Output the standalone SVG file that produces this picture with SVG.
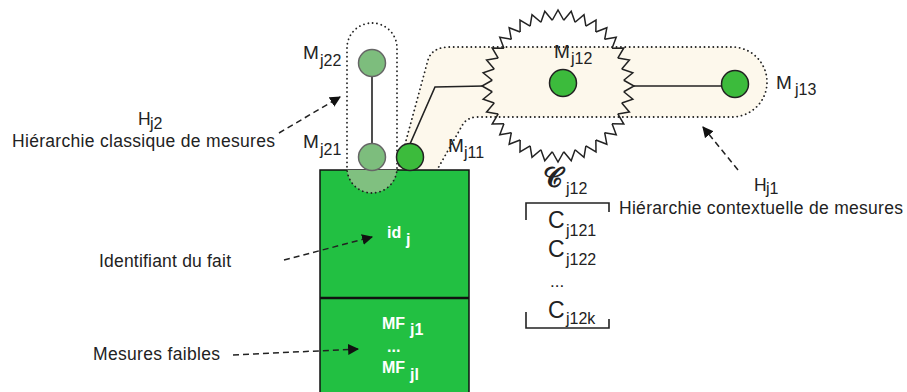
<svg xmlns="http://www.w3.org/2000/svg" xmlns:xlink="http://www.w3.org/1999/xlink" width="907" height="392" viewBox="0 0 907 392">
<style>
text{font-family:"Liberation Sans",Arial,sans-serif;fill:#222;}
.lbl{font-size:17.5px;}
.m{font-size:19px;}
.sub{font-size:16px;}
.w{fill:#fff;font-weight:bold;font-size:16px;}
.ws{fill:#fff;font-weight:bold;font-size:16px;}
.big{font-size:23px;}
.dot{fill:none;stroke:#222;stroke-width:1.8;stroke-dasharray:0.1 4.3;stroke-linecap:round;}
.arr{fill:none;stroke:#222;stroke-width:1.5;stroke-dasharray:6 4;}
.edge{fill:none;stroke:#222;stroke-width:1.6;}
.node{fill:#3cbb3c;stroke:#222;stroke-width:1.5;}
.fade{fill:#7dbd7d;stroke:#666;stroke-width:1.5;}
.tooth{fill:none;stroke:#222;stroke-width:1.5;stroke-linejoin:miter;}
</style>
<defs>
<marker id="ah" viewBox="0 0 10 10" refX="9" refY="5" markerWidth="11" markerHeight="11" markerUnits="userSpaceOnUse" orient="auto">
<path d="M0,0 L10,5 L0,10 Z" fill="#111"/>
</marker>
<path id="t" d="M65.75,-5.75 L76,0 L65.75,5.75"/>
</defs>

<g id="hierarchy-h1-band">
<path d="M398,170 L428,60 Q432,47 450,47 L732,47 A35,35 0 0 1 732,117 L478,117 Q468,117 463,124 L437,170 Z" fill="#fdf8ec"/>
<path class="dot" d="M398,170 L428,60 Q432,47 450,47 L732,47 A35,35 0 0 1 732,117 L478,117 Q468,117 463,124 L437,170"/>
</g>

<g id="fact-box">
<rect x="320" y="170" width="149" height="230" fill="#22c042" stroke="#111" stroke-width="1.5"/>
<line x1="320" y1="298" x2="469" y2="298" stroke="#111" stroke-width="2.5"/>
<path d="M347,170 L397,170 L397,168 A25,25 0 0 1 347,168 Z" fill="#80c080"/>
<text class="w" x="387" y="238">id</text><text class="ws" x="406" y="245">j</text>
<text class="w" x="382" y="329">MF</text><text class="ws" x="410" y="335">j1</text>
<text class="w" x="387" y="352">...</text>
<text class="w" x="382" y="373">MF</text><text class="ws" x="410" y="380">jl</text>
</g>

<g id="hierarchy-h2">
<path class="dot" d="M347,48 A25,25 0 0 1 397,48 L397,168 A25,25 0 0 1 347,168 Z"/>
</g>

<g id="connectors">
<line class="edge" x1="372" y1="77" x2="372" y2="143"/>
<polyline class="edge" points="410,144 435,87 484,86"/>
<line class="edge" x1="634" y1="86" x2="722" y2="86"/>
<line class="arr" x1="279" y1="133" x2="340" y2="97" marker-end="url(#ah)"/>
<line class="arr" x1="284" y1="260" x2="372" y2="237" marker-end="url(#ah)"/>
<line class="arr" x1="233" y1="355" x2="358" y2="349" marker-end="url(#ah)"/>
<line class="arr" x1="738" y1="170" x2="703" y2="127" marker-end="url(#ah)"/>
</g>

<g id="context-c-j12" class="tooth" transform="translate(558,86)">
<use xlink:href="#t" transform="rotate(0)"/><use xlink:href="#t" transform="rotate(10)"/><use xlink:href="#t" transform="rotate(20)"/><use xlink:href="#t" transform="rotate(30)"/><use xlink:href="#t" transform="rotate(40)"/><use xlink:href="#t" transform="rotate(50)"/><use xlink:href="#t" transform="rotate(60)"/><use xlink:href="#t" transform="rotate(70)"/><use xlink:href="#t" transform="rotate(80)"/>
<use xlink:href="#t" transform="rotate(90)"/><use xlink:href="#t" transform="rotate(100)"/><use xlink:href="#t" transform="rotate(110)"/><use xlink:href="#t" transform="rotate(120)"/><use xlink:href="#t" transform="rotate(130)"/><use xlink:href="#t" transform="rotate(140)"/><use xlink:href="#t" transform="rotate(150)"/><use xlink:href="#t" transform="rotate(160)"/><use xlink:href="#t" transform="rotate(170)"/>
<use xlink:href="#t" transform="rotate(180)"/><use xlink:href="#t" transform="rotate(190)"/><use xlink:href="#t" transform="rotate(200)"/><use xlink:href="#t" transform="rotate(210)"/><use xlink:href="#t" transform="rotate(220)"/><use xlink:href="#t" transform="rotate(230)"/><use xlink:href="#t" transform="rotate(240)"/><use xlink:href="#t" transform="rotate(250)"/><use xlink:href="#t" transform="rotate(260)"/>
<use xlink:href="#t" transform="rotate(270)"/><use xlink:href="#t" transform="rotate(280)"/><use xlink:href="#t" transform="rotate(290)"/><use xlink:href="#t" transform="rotate(300)"/><use xlink:href="#t" transform="rotate(310)"/><use xlink:href="#t" transform="rotate(320)"/><use xlink:href="#t" transform="rotate(330)"/><use xlink:href="#t" transform="rotate(340)"/><use xlink:href="#t" transform="rotate(350)"/>
</g>

<g id="node-mj22"><circle class="fade" cx="372" cy="63" r="13.5"/><text class="m" x="303" y="59">M</text><text class="sub" x="320" y="66">j22</text></g>
<g id="node-mj21"><circle class="fade" cx="372" cy="157" r="13.5"/><text class="m" x="303" y="148">M</text><text class="sub" x="320" y="155">j21</text></g>
<g id="node-mj11"><circle class="node" cx="410" cy="157" r="13.5"/><text class="m" x="448" y="152">M</text><text class="sub" x="464" y="158">j11</text></g>
<g id="node-mj12"><circle class="node" cx="563" cy="83" r="13.5"/><text class="m" x="554" y="58">M</text><text class="sub" x="571" y="64">j12</text></g>
<g id="node-mj13"><circle class="node" cx="735" cy="84" r="13.5"/><text class="m" x="776" y="89">M</text><text class="sub" x="795" y="95">j13</text></g>

<g id="label-h2">
<text class="lbl" x="138" y="125">H</text><text class="sub" x="150" y="129">j2</text>
<text class="lbl" x="12" y="147" textLength="263">Hiérarchie classique de mesures</text>
</g>
<g id="label-h1">
<text class="lbl" x="754" y="191">H</text><text class="sub" x="766" y="194">j1</text>
<text class="lbl" x="619" y="214" textLength="284">Hiérarchie contextuelle de mesures</text>
</g>
<g id="label-id"><text class="lbl" x="99" y="267" textLength="132">Identifiant du fait</text></g>
<g id="label-mf"><text class="lbl" x="93" y="360" textLength="127">Mesures faibles</text></g>

<g id="context-list">
<text x="543" y="187" style="font-family:'DejaVu Serif','DejaVu Sans','Noto Sans',serif;font-size:27px;font-weight:bold;">𝒞</text><text class="sub" x="566" y="194">j12</text>
<path class="edge" d="M526,220 L526,203 L609,203 L609,212"/>
<path class="edge" d="M526,312 L526,328 L609,328 L609,319"/>
<text class="big" x="548" y="228">C</text><text class="sub" x="566" y="236">j121</text>
<text class="big" x="548" y="257">C</text><text class="sub" x="566" y="265">j122</text>
<text x="550" y="287" style="font-size:17px;">...</text>
<text class="big" x="548" y="318">C</text><text class="sub" x="566" y="324">j12k</text>
</g>
</svg>
